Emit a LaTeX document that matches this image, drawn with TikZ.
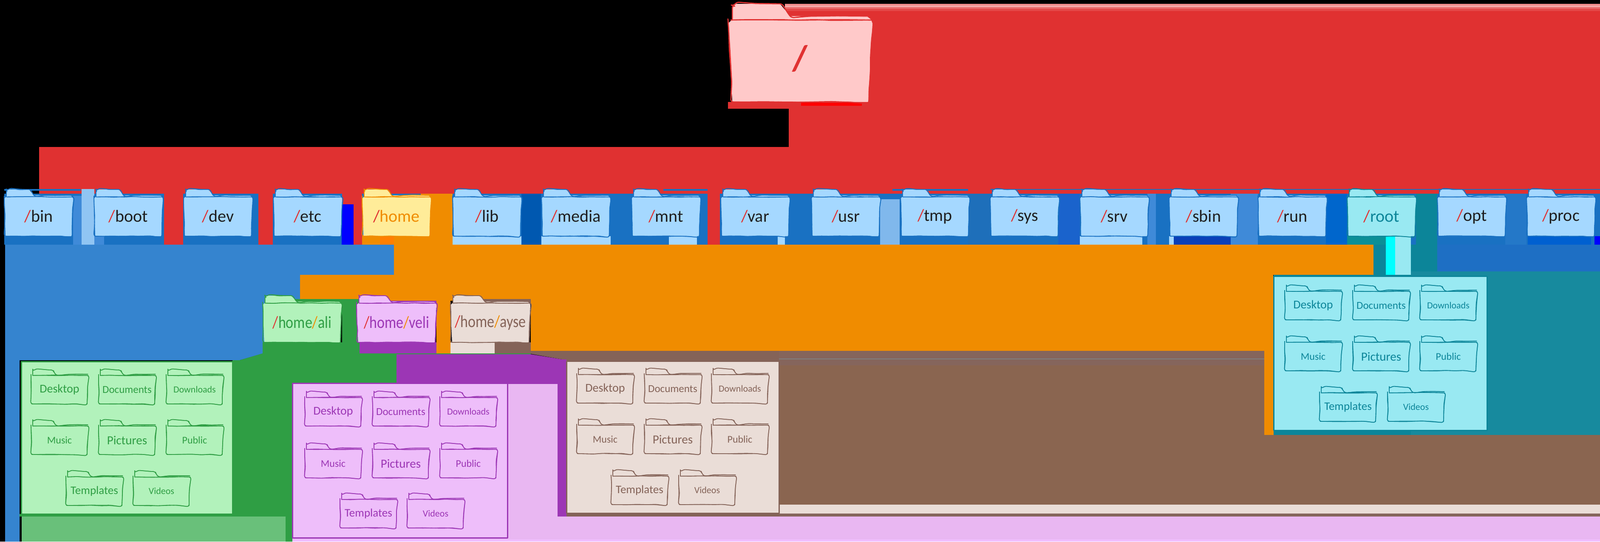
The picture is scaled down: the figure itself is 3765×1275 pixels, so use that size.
\documentclass[tikz,border=0pt]{standalone}
\usepackage{fontspec}
\setmainfont{Carlito}
\usetikzlibrary{decorations.pathmorphing}
\definecolor{cRed}{HTML}{E03131}
\definecolor{cBlue}{HTML}{1971C2}
\definecolor{cBig}{HTML}{3584CF}
\definecolor{cOr}{HTML}{F08C00}
\definecolor{cGr}{HTML}{2F9E44}
\definecolor{cGrL}{HTML}{69C07A}
\definecolor{cPu}{HTML}{9C36B5}
\definecolor{cPi}{HTML}{E9B7F2}
\definecolor{cPiL}{HTML}{F0BEFF}
\definecolor{cBr}{HTML}{846358}
\definecolor{cBrM}{HTML}{85655C}
\definecolor{cBrD}{HTML}{8A6550}
\definecolor{cTe}{HTML}{0C8599}
\definecolor{cTeR}{HTML}{178A9E}
\definecolor{cCy}{HTML}{00FFFF}
\definecolor{fBlue}{HTML}{A5D8FF}
\definecolor{fRed}{HTML}{FFC9C9}
\definecolor{fYel}{HTML}{FFEC99}
\definecolor{fGr}{HTML}{B2F2BB}
\definecolor{fPi}{HTML}{EEBEFA}
\definecolor{fBr}{HTML}{EADDD7}
\definecolor{fTe}{HTML}{99E9F2}
\definecolor{cInk}{HTML}{1E1E1E}
\tikzset{
  sketch/.style={draw=#1,line width=1.6pt,line join=round,decorate,
    decoration={random steps,segment length=22pt,amplitude=0.9pt},rounded corners=5pt},
  sketchbig/.style={draw=#1,line width=2.4pt,line join=round,decorate,
    decoration={random steps,segment length=40pt,amplitude=1.1pt},rounded corners=6pt},
  flabel/.style={inner sep=0pt,anchor=center},
  card/.style={line width=3pt,line join=round},
}
% \fld{name}{x}{y}{w}{h}{fill}{line}{text}
\newcommand\fld[8]{%
  \begin{scope}[shift={(#2,#3)},x=#4pt,y=-#5pt]
    \fill[#6] (.03,.15) -- (.03,.04) -- (.06,0) -- (.36,0) -- (.43,.125) -- (.96,.125) -- (.99,.16) -- (1,.2) -- (.98,1) -- (.02,1) -- (0,.2) -- cycle;
    \foreach \k in {1,2}{
      \draw[sketch=#7] (.03,.16) -- (.03,.04) -- (.06,0) -- (.36,0) -- (.43,.125) -- (.96,.125) -- (.98,.16);
      \draw[sketch=#7] (0,.16) -- (1,.16) -- (.985,1) -- (.015,1) -- cycle;
    }
    \node[flabel] (#1) at (.5,.58) {#8};
  \end{scope}}
% a whole set of six sub-folders in one card: prefix, x1,x2,x3, y1,y2, line, fill
\newcommand\subfolders[8]{%
  \fld{#1a}{#2}{#5}{134}{80}{#8}{#7}{\fontsize{28}{28}\selectfont\color{#7}Desktop}
  \fld{#1b}{#3}{#5}{134}{80}{#8}{#7}{\fontsize{25}{25}\selectfont\color{#7}Documents}
  \fld{#1c}{#4}{#5}{134}{80}{#8}{#7}{\fontsize{22}{22}\selectfont\color{#7}Downloads}
  \fld{#1d}{#2}{#6}{134}{80}{#8}{#7}{\fontsize{24}{24}\selectfont\color{#7}Music}
  \fld{#1e}{#3}{#6}{134}{80}{#8}{#7}{\fontsize{29}{29}\selectfont\color{#7}Pictures}
  \fld{#1f}{#4}{#6}{134}{80}{#8}{#7}{\fontsize{24}{24}\selectfont\color{#7}Public}}
\newcommand\subrowf[6]{%
  \fld{#1g}{#2}{#4}{134}{80}{#6}{#5}{\fontsize{27}{27}\selectfont\color{#5}Templates}
  \fld{#1h}{#3}{#4}{134}{80}{#6}{#5}{\fontsize{22}{22}\selectfont\color{#5}Videos}}
\newcommand\topf[3]{\fld{#1}{#2}{446}{162}{110}{fBlue}{cBlue}{\fontsize{40}{40}\selectfont\textcolor{cRed}{/}\textcolor{cInk}{#3}}}
\newcommand\homef[6]{\fld{#1}{#2}{696}{#3}{110}{#4}{#5}{\scalebox{.85}[1]{\fontsize{40}{40}\selectfont\textcolor{cRed}{/}\textcolor{#5}{home}\textcolor{cOr}{/}\textcolor{#5}{#6}}}}
\newcommand\rg[5]{\fill[#1] (#2,#3) rectangle (#4,#5);}
\definecolor{c1}{HTML}{3F8AD8}\definecolor{c2}{HTML}{90C5F3}\definecolor{c3}{HTML}{80B8EC}
\definecolor{c4}{HTML}{0058B0}\definecolor{c5}{HTML}{FF7F00}\definecolor{c6}{HTML}{1E6FBA}
\definecolor{c7}{HTML}{1A63CC}\definecolor{c8}{HTML}{0A40B8}\definecolor{c9}{HTML}{0066CC}
\definecolor{c10}{HTML}{0C8F96}\definecolor{c11}{HTML}{0060D0}\definecolor{c12}{HTML}{1E6FC4}
\definecolor{c13}{HTML}{2478C8}\definecolor{s1}{HTML}{F08C8C}\definecolor{s2}{HTML}{F4A8A8}
\definecolor{s3}{HTML}{EA6A6A}\definecolor{s4}{HTML}{E44848}
\begin{document}
\begin{tikzpicture}[x=1pt,y=-1pt]
\useasboundingbox (0,0) rectangle (3765,1275);
\fill[black] (0,0) rectangle (3765,1275);
% red field
\rg{cRed}{1847}{26}{3765}{256}
\rg{s1}{1847}{9}{3765}{13}
\rg{s2}{1847}{13}{3765}{17}
\rg{s3}{1847}{17}{3765}{21}
\rg{s4}{1847}{21}{3765}{26}
\rg{cRed}{1856}{256}{3765}{346}
\rg{cRed}{92}{346}{3765}{456}
\rg{cRed}{1713}{240}{2053}{256}
\rg{red}{1885}{241}{2028}{249}
% strip behind the row of folders
\rg{cBlue}{10}{456}{3765}{576}
\rg{cBlue}{10}{445}{190}{449}
\rg{cBlue}{1561}{445}{1665}{449}
\rg{cBlue}{2100}{445}{2278}{449}
\rg{cBlue}{2330}{445}{3765}{447}
\rg{c1}{172}{461}{192}{576}
\rg{c2}{192}{445}{222}{576}
\rg{c1}{222}{556}{245}{576}
\rg{cRed}{386}{445}{431}{576}
\rg{cRed}{608}{445}{642}{576}
\rg{cRed}{805}{456}{852}{481}
\rg{blue}{804}{481}{832}{576}
\rg{cRed}{832}{445}{852}{576}
\rg{cOr}{990}{456}{1065}{576}
\rg{cOr}{852}{556}{1015}{576}
\rg{c5}{894}{556}{927}{576}
\rg{fBlue}{1065}{556}{1227}{576}
\rg{c4}{1227}{456}{1273}{576}
\rg{fBlue}{1274}{556}{1437}{576}
\rg{fBlue}{1574}{556}{1640}{576}
\rg{cRed}{1665}{445}{1694}{576}
\rg{fBlue}{1830}{556}{1847}{576}
\rg{c3}{2071}{469}{2117}{576}
\rg{c6}{2278}{456}{2330}{576}
\rg{c7}{2490}{456}{2541}{576}
\rg{fBlue}{2541}{556}{2688}{576}
\rg{c1}{2700}{456}{2720}{576}
\rg{fBlue}{2751}{556}{2762}{576}
\rg{c8}{2762}{556}{2896}{576}
\rg{c1}{2896}{456}{2960}{576}
\rg{c9}{3120}{456}{3170}{576}
\rg{c10}{3170}{556}{3261}{576}
\rg{cTe}{3332}{456}{3382}{576}
\rg{c13}{3542}{456}{3592}{576}
\rg{c11}{3595}{556}{3744}{576}
\rg{blue}{3752}{556}{3765}{576}
% blue field
\fill[cBig] (12,576) -- (927,576) -- (927,647) -- (706,647) -- (706,704) -- (626,704) -- (626,830) -- (564,848) -- (46,848) -- (46,1275) -- (12,1275) -- cycle;
% orange field
\rg{cOr}{927}{576}{3232}{647}
\rg{cOr}{706}{647}{1249}{708}
\rg{cOr}{1027}{708}{1060}{832}
\rg{cOr}{1249}{647}{2996}{826}
% root connector strips
\rg{cTe}{3232}{576}{3261}{647}
\rg{cCy}{3261}{556}{3283}{647}
\rg{fTe}{3283}{556}{3320}{647}
\rg{cTe}{3320}{576}{3382}{639}
\rg{c12}{3382}{576}{3765}{639}
% green field
\rg{cGr}{690}{704}{839}{722}
\fill[cGr] (618,832) -- (618,806) -- (805,806) -- (805,704) -- (846,704) -- (846,832) -- (933,832) -- (933,902) -- (688,902) -- (688,1275) -- (672,1275) -- (672,1216) -- (547,1216) -- (547,848) -- (564,848) -- cycle;
\rg{cGr}{46}{1210}{547}{1216}
\rg{cGr}{933}{832}{1249}{834}
\rg{cGrL}{51}{1216}{672}{1275}
% purple field
\rg{cPu}{846}{806}{1027}{832}
\rg{cPu}{900}{708}{1027}{722}
\fill[cPu] (933,834) -- (1249,834) -- (1323,846) -- (1333,846) -- (1333,1216) -- (1312,1216) -- (1312,904) -- (933,904) -- cycle;
% brown field
\rg{fBr}{1060}{806}{1164}{832}
\rg{cBr}{1164}{806}{1249}{832}
\rg{cBr}{1130}{704}{1249}{716}
\fill[cBr] (1249,826) -- (1333,826) -- (1333,846) -- (1323,846) -- (1249,833) -- cycle;
\rg{cBrM}{1833}{826}{3765}{1216}
\rg{cBrD}{1833}{860}{3765}{1188}
\rg{gray}{1700}{844}{3765}{846}
\rg{fBr}{1833}{1188}{3765}{1209}
\rg{cBr}{1333}{826}{1833}{1216}
% orange side strip
\rg{cOr}{2975}{826}{2997}{1024}
% pink field
\rg{cPi}{1194}{904}{1312}{1216}
\rg{cPi}{688}{1216}{3765}{1275}
\rg{cPiL}{688}{1270}{3765}{1275}
% teal field
\rg{cTe}{2997}{647}{3500}{1024}
\rg{cTeR}{3320}{639}{3765}{1024}
% cards
\fill[fGr,draw=cGr,card] (50,851) rectangle (547,1210);
\fill[fPi,draw=cPu,card] (688,902) rectangle (1194,1266);
\fill[fBr,draw=cBr,card] (1333,850) rectangle (1833,1208);
\fill[fTe,draw=cTe,card] (2997,650) rectangle (3499,1013);
% root folder
\begin{scope}[shift={(1713,9)},x=340pt,y=-231pt]
  \fill[fRed] (.03,.16) -- (.03,.04) -- (.05,0) -- (.36,0) -- (.43,.125) -- (.96,.125) -- (.99,.16) -- (1,.2) -- (.975,1) -- (.03,1) -- (0,.2) -- cycle;
  \foreach \k in {1,2}{
    \draw[sketchbig=cRed] (.03,.16) -- (.03,.04) -- (.05,0) -- (.36,0) -- (.43,.125) -- (.96,.125) -- (.99,.16);
    \draw[sketchbig=cRed] (0,.165) -- (1,.165) -- (.975,1) -- (.03,1) -- cycle;
  }
  \node[flabel] (rootdir) at (.5,.56) {\fontsize{84}{84}\selectfont\bfseries\textcolor{cRed}{/}};
\end{scope}
% top row
\topf{bin}{10}{bin}
\topf{boot}{221}{boot}
\topf{dev}{432}{dev}
\topf{etc}{643}{etc}
\fld{home}{852}{446}{162}{110}{fYel}{cOr}{\fontsize{40}{40}\selectfont\textcolor{cRed}{/}\textcolor{cOr}{home}}
\topf{lib}{1065}{lib}
\topf{media}{1274}{media}
\topf{mnt}{1486}{mnt}
\topf{var}{1696}{var}
\topf{usr}{1909}{usr}
\topf{tmp}{2119}{tmp}
\topf{sys}{2330}{sys}
\topf{srv}{2541}{srv}
\topf{sbin}{2751}{sbin}
\topf{run}{2960}{run}
\fld{rootd}{3170}{446}{162}{110}{fTe}{cTe}{\fontsize{40}{40}\selectfont\textcolor{cRed}{/}\textcolor{cTe}{root}}
\topf{opt}{3382}{opt}
\topf{proc}{3592}{proc}
% home sub-folders
\homef{ali}{618}{186}{fGr}{cGr}{ali}
\homef{veli}{839}{188}{fPi}{cPu}{veli}
\homef{ayse}{1060}{188}{fBr}{cBr}{ayse}
% card contents
\subfolders{g}{73}{232}{391}{871}{990}{cGr}{fGr}
\subrowf{g}{155}{313}{1110}{cGr}{fGr}
\subfolders{p}{717}{876}{1035}{923}{1045}{cPu}{fPi}
\subrowf{p}{800}{958}{1163}{cPu}{fPi}
\subfolders{b}{1357}{1516}{1674}{869}{988}{cBr}{fBr}
\subrowf{b}{1438}{1597}{1108}{cBr}{fBr}
\subfolders{t}{3023}{3183}{3341}{673}{793}{cTe}{fTe}
\subrowf{t}{3105}{3265}{912}{cTe}{fTe}
\end{tikzpicture}
\end{document}
